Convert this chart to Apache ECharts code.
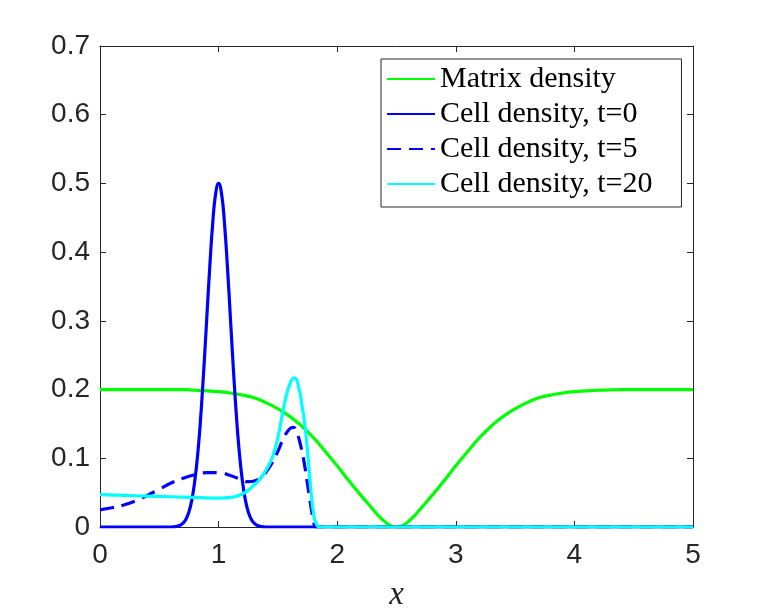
<!DOCTYPE html>
<html>
<head>
<meta charset="utf-8">
<script src="https://cdn.jsdelivr.net/npm/echarts@6/dist/echarts.min.js"></script>
<style>
  html, body { margin: 0; padding: 0; background: #ffffff; }
  #chart { width: 767px; height: 613px; }
</style>
</head>
<body>
<div id="chart"></div>
<script>
// ---- data ----
const seriesNames = ['Matrix density', 'Cell density, t=0', 'Cell density, t=5', 'Cell density, t=20'];
const xTicks = [0, 1, 2, 3, 4, 5];
const yTicks = [0, 0.1, 0.2, 0.3, 0.4, 0.5, 0.6, 0.7];

const matrixX = [0, 0.1, 0.2, 0.3, 0.4, 0.5, 0.6, 0.7, 0.8, 0.9, 1.0, 1.1, 1.2, 1.3, 1.4, 1.5, 1.6, 1.7, 1.8, 1.9, 2.0,
  2.1, 2.2, 2.3, 2.35, 2.4, 2.45, 2.5, 2.55, 2.6, 2.65, 2.7, 2.8, 2.9, 3.0, 3.1, 3.2, 3.3, 3.4, 3.5, 3.6, 3.7, 3.8, 3.9, 4.0,
  4.1, 4.2, 4.3, 4.4, 4.5, 4.6, 4.7, 4.8, 4.9, 5.0];
const matrixY = [0.2, 0.2, 0.2, 0.2, 0.2, 0.2, 0.2, 0.2, 0.199, 0.198, 0.197, 0.195, 0.192, 0.188, 0.181, 0.172, 0.161, 0.147, 0.130, 0.110, 0.089,
  0.067, 0.046, 0.026, 0.016, 0.008, 0.002, 0.0, 0.002, 0.008, 0.016, 0.026, 0.046, 0.067, 0.089, 0.110, 0.130, 0.147, 0.161, 0.172, 0.181, 0.188, 0.192, 0.195, 0.197,
  0.198, 0.199, 0.1995, 0.2, 0.2, 0.2, 0.2, 0.2, 0.2, 0.2];

const cell0X = [0, 0.5, 0.6, 0.65, 0.675, 0.7, 0.725, 0.75, 0.775, 0.8, 0.825, 0.85, 0.875, 0.9, 0.925, 0.95, 0.975, 1.0,
  1.025, 1.05, 1.075, 1.1, 1.125, 1.15, 1.175, 1.2, 1.225, 1.25, 1.275, 1.3, 1.325, 1.35, 1.4, 1.5, 5.0];
const cell0Y = [0, 0, 0, 0.0011, 0.0025, 0.0056, 0.0114, 0.022, 0.040, 0.068, 0.108, 0.162, 0.229, 0.303, 0.377, 0.441, 0.485, 0.5,
  0.485, 0.441, 0.377, 0.303, 0.229, 0.162, 0.108, 0.068, 0.040, 0.022, 0.0114, 0.0056, 0.0025, 0.0011, 0, 0, 0];

const cell5X = [0, 0.1, 0.2, 0.3, 0.4, 0.5, 0.6, 0.7, 0.8, 0.9, 1.0, 1.1, 1.2, 1.25, 1.3, 1.35, 1.4, 1.45, 1.5, 1.55, 1.6,
  1.63, 1.66, 1.69, 1.72, 1.75, 1.78, 1.8, 1.82, 1.9, 5.0];
const cell5Y = [0.025, 0.028, 0.032, 0.038, 0.046, 0.055, 0.064, 0.071, 0.076, 0.079, 0.079, 0.075, 0.068, 0.066, 0.067, 0.071, 0.080, 0.093, 0.110, 0.130, 0.143,
  0.145, 0.137, 0.120, 0.095, 0.062, 0.028, 0.010, 0, 0, 0];

const cell20X = [0, 0.2, 0.4, 0.6, 0.8, 1.0, 1.1, 1.2, 1.3, 1.35, 1.4, 1.45, 1.5, 1.55, 1.6, 1.64,
  1.68, 1.7, 1.73, 1.76, 1.78, 1.8, 1.82, 1.85, 1.9, 5.0];
const cell20Y = [0.047, 0.046, 0.045, 0.044, 0.043, 0.042, 0.043, 0.048, 0.061, 0.070, 0.083, 0.100, 0.130, 0.175, 0.208, 0.217,
  0.200, 0.180, 0.145, 0.090, 0.050, 0.020, 0.006, 0, 0, 0];

const zip = (xs, ys) => xs.map((x, i) => [x, ys[i]]);

const axisColor = '#262626';
const tickFont = { fontFamily: 'Liberation Sans, Arial, sans-serif', fontSize: 28, color: axisColor };

const chart = echarts.init(document.getElementById('chart'), null, { renderer: 'canvas' });

const lineBase = (name, data, color, dashed) => ({
  name: name,
  type: 'line',
  data: data,
  xAxisIndex: 0,
  yAxisIndex: 0,
  showSymbol: false,
  symbol: 'none',
  smooth: 0.5,
  animation: false,
  lineStyle: { color: color, width: 3.2, type: dashed ? [14, 8] : 'solid' },
  itemStyle: { color: color }
});

chart.setOption({
  backgroundColor: '#ffffff',
  animation: false,
  grid: { left: 100, right: 74, top: 46, bottom: 86, containLabel: false, outerBoundsMode: 'none' },
  legend: {
    data: seriesNames,
    orient: 'vertical',
    left: 381,
    top: 59,
    padding: [5, 29, 8, 5],
    itemWidth: 48,
    itemHeight: 14,
    itemGap: 5,
    itemStyle: { opacity: 0 },
    backgroundColor: '#ffffff',
    borderColor: axisColor,
    borderWidth: 1,
    borderRadius: 0,
    textStyle: { fontFamily: 'Liberation Serif, Times New Roman, serif', fontSize: 30, lineHeight: 30, color: '#000000' }
  },
  xAxis: [
    {
      type: 'value', min: 0, max: 5, interval: 1, position: 'bottom',
      name: 'x', nameLocation: 'middle', nameGap: 52,
      nameTextStyle: { fontFamily: 'Liberation Serif, Times New Roman, serif', fontStyle: 'italic', fontSize: 33, color: axisColor },
      axisLine: { show: true, onZero: false, lineStyle: { color: axisColor, width: 1 } },
      axisTick: { show: true, inside: true, length: 6, lineStyle: { color: axisColor } },
      axisLabel: Object.assign({ margin: 14, formatter: v => String(v) }, tickFont),
      splitLine: { show: false }
    },
    {
      type: 'value', min: 0, max: 5, interval: 1, position: 'top',
      axisLine: { show: true, onZero: false, lineStyle: { color: axisColor, width: 1 } },
      axisTick: { show: true, inside: true, length: 6, lineStyle: { color: axisColor } },
      axisLabel: { show: false },
      splitLine: { show: false }
    }
  ],
  yAxis: [
    {
      type: 'value', min: 0, max: 0.7, interval: 0.1, position: 'left',
      axisLine: { show: true, onZero: false, lineStyle: { color: axisColor, width: 1 } },
      axisTick: { show: true, inside: true, length: 6, lineStyle: { color: axisColor } },
      axisLabel: Object.assign({ margin: 10, formatter: v => (Math.round(v * 10) / 10).toString() }, tickFont),
      splitLine: { show: false }
    },
    {
      type: 'value', min: 0, max: 0.7, interval: 0.1, position: 'right',
      axisLine: { show: true, onZero: false, lineStyle: { color: axisColor, width: 1 } },
      axisTick: { show: true, inside: true, length: 6, lineStyle: { color: axisColor } },
      axisLabel: { show: false },
      splitLine: { show: false }
    }
  ],
  series: [
    lineBase(seriesNames[0], zip(matrixX, matrixY), '#00FF00', false),
    lineBase(seriesNames[1], zip(cell0X, cell0Y), '#0000FF', false),
    lineBase(seriesNames[2], zip(cell5X, cell5Y), '#0000FF', true),
    lineBase(seriesNames[3], zip(cell20X, cell20Y), '#00FFFF', false)
  ]
});
</script>
</body>
</html>
